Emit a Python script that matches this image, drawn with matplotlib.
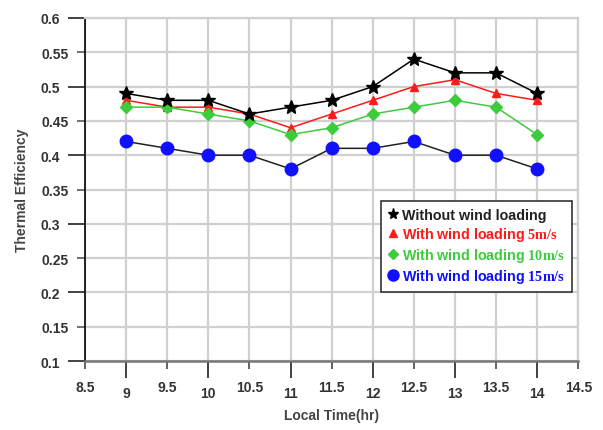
import matplotlib
matplotlib.use('Agg')
import matplotlib.pyplot as plt
from matplotlib.lines import Line2D
from matplotlib.ticker import MultipleLocator, FormatStrFormatter

plt.rcParams['font.family'] = 'Liberation Sans'
plt.rcParams['mathtext.fontset'] = 'custom'
plt.rcParams['mathtext.rm'] = 'Liberation Serif:bold'

# Data
local_time = [9, 9.5, 10, 10.5, 11, 11.5, 12, 12.5, 13, 13.5, 14]
no_wind = [0.49, 0.48, 0.48, 0.46, 0.47, 0.48, 0.50, 0.54, 0.52, 0.52, 0.49]
wind_5 = [0.48, 0.47, 0.47, 0.46, 0.44, 0.46, 0.48, 0.50, 0.51, 0.49, 0.48]
wind_10 = [0.47, 0.47, 0.46, 0.45, 0.43, 0.44, 0.46, 0.47, 0.48, 0.47, 0.43]
wind_15 = [0.42, 0.41, 0.40, 0.40, 0.38, 0.41, 0.41, 0.42, 0.40, 0.40, 0.38]

labels = ['Without wind loading',
          r'With wind loading $\mathrm{5m/s}$',
          r'With wind loading $\mathrm{10m/s}$',
          r'With wind loading $\mathrm{15m/s}$']

red = '#ff1a1a'
green = '#3dcc3d'
blue = '#1010ff'

fig = plt.figure(figsize=(6.03, 4.31), dpi=100)
ax = fig.add_axes([0.141, 0.160, 0.818, 0.796])

ax.plot(local_time, no_wind, color='black', lw=1.1, marker='*', ms=10, zorder=5)
ax.plot(local_time, wind_5, color=red, lw=1.1, marker='^', ms=6, zorder=4)
ax.plot(local_time, wind_10, color=green, lw=1.1, marker='D', ms=6, zorder=4)
ax.plot(local_time, wind_15, color='#222222', lw=1.1, marker='o', ms=9,
        mfc=blue, mec=blue, zorder=4)

ax.set_xlim(8.5, 14.5)
ax.set_ylim(0.1, 0.6)

# integers / tenths get long ticks, halves / 0.05s short ones
ax.xaxis.set_major_locator(MultipleLocator(1.0))
ax.xaxis.set_minor_locator(MultipleLocator(0.5))
ax.xaxis.set_major_formatter(FormatStrFormatter('%g'))
ax.xaxis.set_minor_formatter(FormatStrFormatter('%g'))
ax.yaxis.set_major_locator(MultipleLocator(0.1))
ax.yaxis.set_minor_locator(MultipleLocator(0.05))
ax.yaxis.set_major_formatter(FormatStrFormatter('%g'))
ax.yaxis.set_minor_formatter(FormatStrFormatter('%g'))

ax.tick_params(axis='x', which='major', length=12, width=1.3, pad=6,
               color='#333333', labelsize=10, labelcolor='#333333')
ax.tick_params(axis='x', which='minor', length=6, width=1.3, pad=8,
               color='#555555', labelsize=10, labelcolor='#333333')
ax.tick_params(axis='y', which='major', length=12, width=1.3, pad=6,
               color='#333333', labelsize=10, labelcolor='#333333')
ax.tick_params(axis='y', which='minor', length=6, width=1.3, pad=6,
               color='#666666', labelsize=10, labelcolor='#333333')
for lbl in ax.get_xticklabels(which='both') + ax.get_yticklabels(which='both'):
    lbl.set_fontweight('bold')

ax.grid(True, which='both', color='#d0d0d0', lw=1.6)
ax.set_axisbelow(True)

for side in ['top', 'right']:
    ax.spines[side].set_color('#d0d0d0')
    ax.spines[side].set_linewidth(1.6)
ax.spines['left'].set_color('#111111')
ax.spines['left'].set_linewidth(1.3)
ax.spines['bottom'].set_color('#777777')
ax.spines['bottom'].set_linewidth(1.8)

ax.set_xlabel('Local Time(hr)', fontsize=10, fontweight='bold', color='#444444',
              labelpad=6)
ax.set_ylabel('Thermal Efficiency', fontsize=10, fontweight='bold', color='#444444',
              labelpad=8)

handles = [Line2D([], [], ls='None', marker='*', ms=8, color='black'),
           Line2D([], [], ls='None', marker='^', ms=6, color=red),
           Line2D([], [], ls='None', marker='D', ms=5, color=green),
           Line2D([], [], ls='None', marker='o', ms=8, color=blue)]
leg = ax.legend(handles, labels, loc='lower right', bbox_to_anchor=(0.988, 0.201),
                borderaxespad=0, fancybox=False, framealpha=1, edgecolor='#333333',
                handlelength=0.6, handletextpad=0.35, labelspacing=0.2,
                borderpad=0.5, prop={'size': 10.3, 'weight': 'bold'})
leg.get_frame().set_linewidth(1.2)
for txt, c in zip(leg.get_texts(), ['#222222', red, green, blue]):
    txt.set_color(c)

fig.savefig('out.png', dpi=100)
